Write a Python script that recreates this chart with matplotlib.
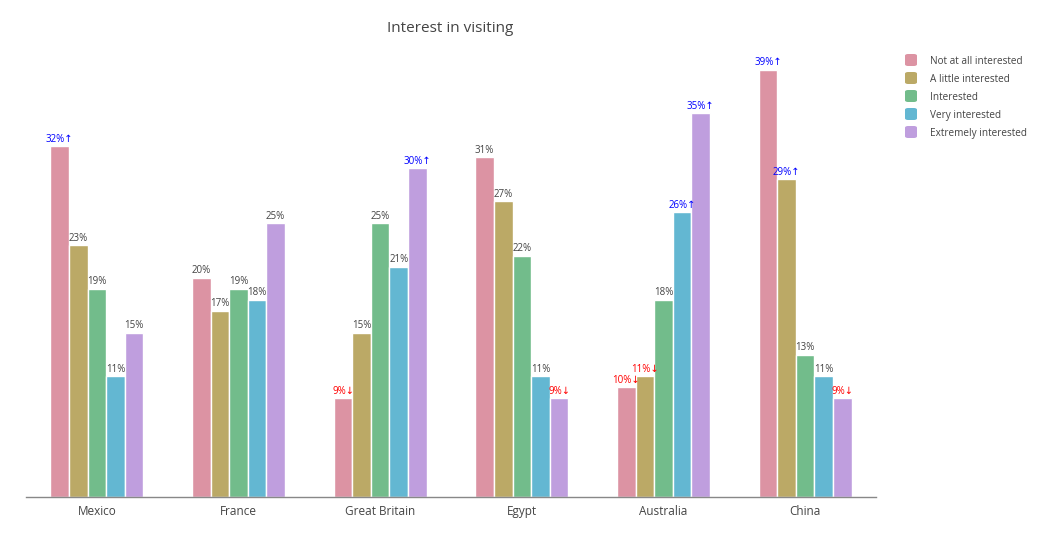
import matplotlib
matplotlib.use("Agg")
import matplotlib.pyplot as plt
from matplotlib.patches import FancyBboxPatch
import numpy as np

plt.rcParams['font.family'] = ['Open Sans', 'DejaVu Sans']

countries = ["Mexico", "France", "Great Britain", "Egypt", "Australia", "China"]
series = ["Not at all interested", "A little interested", "Interested",
          "Very interested", "Extremely interested"]
not_at_all = [32, 20, 9, 31, 10, 39]
a_little = [23, 17, 15, 27, 11, 29]
interested = [19, 19, 25, 22, 18, 13]
very = [11, 18, 21, 11, 26, 11]
extremely = [15, 25, 30, 9, 35, 9]
# annotation marks: 1 = notably high (↑), -1 = notably low (↓), 0 = plain
flags_not_at_all = [1, 0, -1, 0, -1, 1]
flags_a_little = [0, 0, 0, 0, -1, 1]
flags_interested = [0, 0, 0, 0, 0, 0]
flags_very = [0, 0, 0, 0, 1, 0]
flags_extremely = [0, 0, 1, -1, 1, -1]

values = [not_at_all, a_little, interested, very, extremely]
flags = [flags_not_at_all, flags_a_little, flags_interested, flags_very, flags_extremely]
colors = ["#DC93A3", "#BBA966", "#72BC8B", "#63B7D2", "#BF9EDE"]

W, H = 1059, 541
fig = plt.figure(figsize=(W / 100, H / 100), dpi=100)
ax_l, ax_r, ax_b, ax_t = 26, 876, 497, 52
ax = fig.add_axes([ax_l / W, 1 - ax_b / H, (ax_r - ax_l) / W, (ax_b - ax_t) / H])

x = np.arange(len(countries))
slot = 0.131
for i, (vals, fl, c) in enumerate(zip(values, flags, colors)):
    pos = x + (i - 2) * slot
    ax.bar(pos, vals, width=slot, color=c, edgecolor="white", linewidth=1.0, zorder=2)
    for p, v, f in zip(pos, vals, fl):
        if f == 1:
            txt, col = f"{v}%↑", "#0000FF"
        elif f == -1:
            txt, col = f"{v}%↓", "#FF0000"
        else:
            txt, col = f"{v}%", "#444444"
        ax.annotate(txt, (p, v), xytext=(0, 1.0), textcoords="offset points",
                    ha="center", va="bottom", fontsize=7, color=col,
                    family=['Open Sans', 'DejaVu Sans'])

ax.set_xlim(-0.5, len(countries) - 0.5)
ax.set_ylim(0, 40.6)
ax.set_xticks(x)
ax.set_xticklabels(countries, fontsize=8.5, color="#444444")
ax.tick_params(axis="x", length=0, pad=6)
ax.set_yticks([])
for s in ["top", "right", "left"]:
    ax.spines[s].set_visible(False)
ax.spines["bottom"].set_color("#888888")
ax.spines["bottom"].set_linewidth(1)
ax.set_zorder(1)

fig.text(450 / W, 1 - 28 / H, "Interest in visiting", ha="center", va="center",
         fontsize=11, color="#444444")

# legend
for k, (name, c) in enumerate(zip(series, colors)):
    yc = 60 + 18 * k
    box = FancyBboxPatch(((905) / W, 1 - (yc + 6) / H), 12 / W, 12 / H,
                         boxstyle="round,pad=0,rounding_size=0.003",
                         transform=fig.transFigure, facecolor=c, edgecolor="none")
    fig.patches.append(box)
    fig.text(930 / W, 1 - (yc + 1.5) / H, name, ha="left", va="center",
             fontsize=7.2, color="#444444")

fig.savefig("out.png", dpi=100, facecolor="white")
